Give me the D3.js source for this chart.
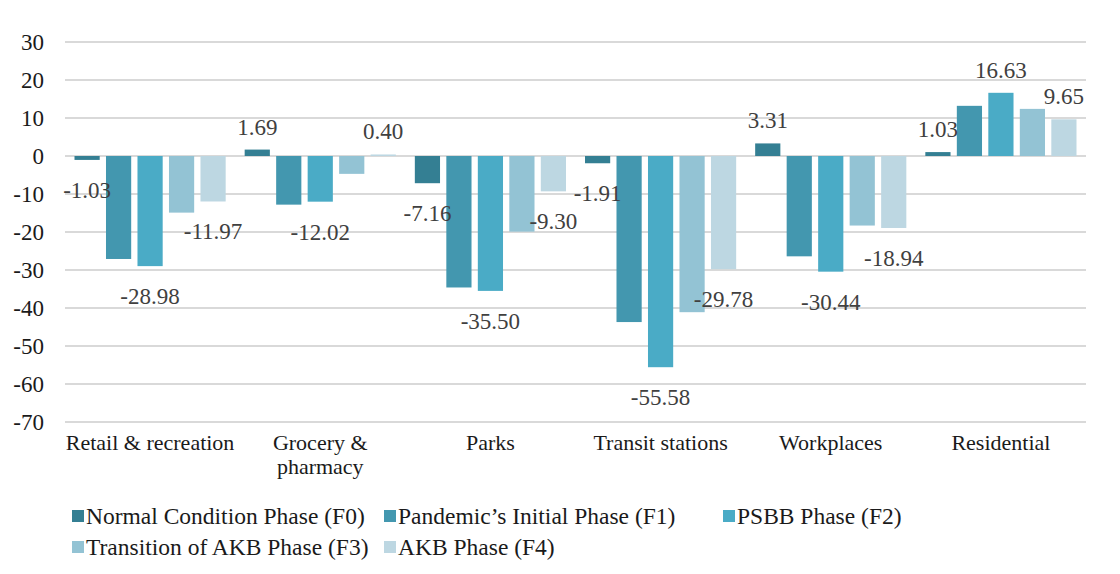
<!DOCTYPE html>
<html>
<head>
<meta charset="utf-8">
<script src="https://cdn.jsdelivr.net/npm/d3@7"></script>
<style>
  html, body { margin: 0; padding: 0; background: #ffffff; }
  svg { display: block; }
</style>
</head>
<body>
<svg id="chart" width="1120" height="574"></svg>
<script>
const categories = ["Retail & recreation", "Grocery & pharmacy", "Parks", "Transit stations", "Workplaces", "Residential"];
const categoryLines = [["Retail & recreation"], ["Grocery &", "pharmacy"], ["Parks"], ["Transit stations"], ["Workplaces"], ["Residential"]];
const seriesNames = ["Normal Condition Phase (F0)", "Pandemic\u2019s Initial Phase (F1)", "PSBB Phase (F2)", "Transition of AKB Phase (F3)", "AKB Phase (F4)"];
const F0 = [-1.03, 1.69, -7.16, -1.91, 3.31, 1.03];
const F1 = [-27.1, -12.8, -34.6, -43.7, -26.4, 13.2];
const F2 = [-28.98, -12.02, -35.50, -55.58, -30.44, 16.63];
const F3 = [-14.9, -4.7, -19.9, -41.1, -18.3, 12.4];
const F4 = [-11.97, 0.40, -9.30, -29.78, -18.94, 9.65];
const seriesValues = [F0, F1, F2, F3, F4];
const labeledSeries = [true, false, true, false, true];
const colors = ["#347F93", "#4397AF", "#4AABC6", "#93C3D4", "#BDD7E2"];
const yTicks = [30, 20, 10, 0, -10, -20, -30, -40, -50, -60, -70];

(function () {
const svg = d3.select("#chart");
const FONT = "Liberation Serif, DejaVu Serif, serif";
svg.style("font-family", FONT);
const pLeft = 65, pRight = 1086, pTop = 42, pBottom = 422;

const y = d3.scaleLinear().domain([-70, 30]).range([pBottom, pTop]);
const x0 = d3.scaleBand().domain(categories).range([pLeft, pRight]).paddingInner(0).paddingOuter(0);
const groupPad = 9.5;
const x1 = d3.scaleBand().domain(d3.range(seriesNames.length))
  .range([groupPad, x0.bandwidth() - groupPad]).paddingInner(0.2).paddingOuter(0);

svg.append("g").selectAll("line").data(yTicks).join("line")
  .attr("x1", pLeft).attr("x2", pRight)
  .attr("y1", d => y(d)).attr("y2", d => y(d))
  .attr("stroke", "#D9D9D9").attr("stroke-width", 1.8);

svg.append("g").selectAll("text").data(yTicks).join("text")
  .style("font-family", FONT)
  .attr("x", 44).attr("y", d => y(d) + 8)
  .attr("text-anchor", "end")
  .attr("font-size", 23).attr("fill", "#1a1a1a")
  .text(d => String(d));

const groups = svg.append("g").selectAll("g").data(categories).join("g")
  .attr("transform", c => `translate(${x0(c)},0)`);

groups.each(function(c, ci) {
  const g = d3.select(this);
  seriesValues.forEach((vals, si) => {
    const v = vals[ci];
    g.append("rect")
      .attr("x", x1(si))
      .attr("width", x1.bandwidth())
      .attr("y", Math.min(y(v), y(0)))
      .attr("height", Math.abs(y(v) - y(0)))
      .attr("fill", colors[si]);
  });
});

groups.each(function(c, ci) {
  const g = d3.select(this);
  seriesValues.forEach((vals, si) => {
    if (!labeledSeries[si]) return;
    const v = vals[ci];
    const cx = x1(si) + x1.bandwidth() / 2;
    const yy = v >= 0 ? y(v) - 15 : y(v) + 38;
    g.append("text")
      .style("font-family", FONT)
      .attr("x", cx).attr("y", yy)
      .attr("text-anchor", "middle")
      .attr("font-size", 23).attr("fill", "#404040")
      .text(v.toFixed(2));
  });
});

const catG = svg.append("g").selectAll("text").data(categories).join("text")
  .style("font-family", FONT)
  .attr("text-anchor", "middle")
  .attr("font-size", 22).attr("fill", "#1a1a1a")
  .attr("transform", c => `translate(${x0(c) + x0.bandwidth() / 2},450)`);
catG.each(function(c, i) {
  d3.select(this).selectAll("tspan").data(categoryLines[i]).join("tspan")
    .attr("x", 0).attr("dy", (d, j) => j === 0 ? 0 : 24)
    .text(d => d);
});

const legendPos = [[72, 516], [384, 516], [723, 516], [72, 547], [384, 547]];
const leg = svg.append("g").selectAll("g").data(seriesNames).join("g")
  .attr("transform", (d, i) => `translate(${legendPos[i][0]},${legendPos[i][1]})`);
leg.append("rect").attr("x", 0).attr("y", -6).attr("width", 12).attr("height", 12)
  .attr("fill", (d, i) => colors[i]);
leg.append("text").attr("x", 14).attr("y", 8)
  .style("font-family", FONT)
  .attr("font-size", 23.5).attr("fill", "#1a1a1a")
  .text(d => d);
})();
</script>
</body>
</html>
